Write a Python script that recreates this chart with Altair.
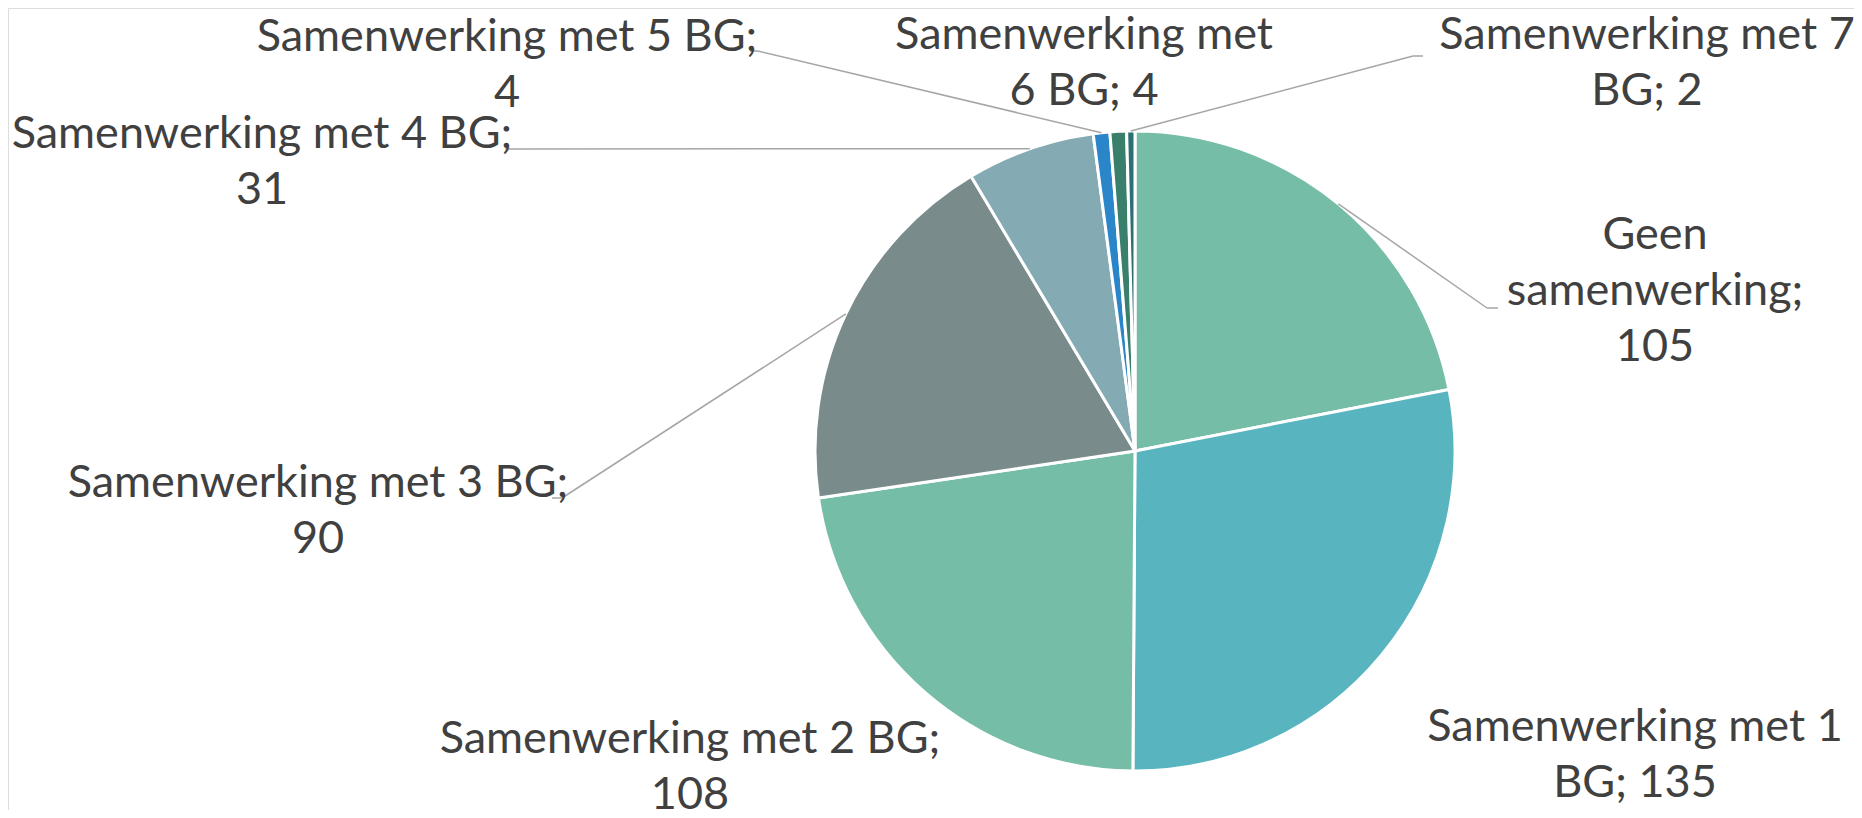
import textwrap
import altair as alt
import pandas as pd

# ---- data -------------------------------------------------------------
categories = [
    "Geen samenwerking",
    "Samenwerking met 1 BG",
    "Samenwerking met 2 BG",
    "Samenwerking met 3 BG",
    "Samenwerking met 4 BG",
    "Samenwerking met 5 BG",
    "Samenwerking met 6 BG",
    "Samenwerking met 7 BG",
]
values = [105, 135, 108, 90, 31, 4, 4, 2]

# ---- style / layout -----------------------------------------------------
colors = ["#76BDA7", "#58B5C0", "#76BDA7", "#7A8B8B",
          "#84AAB3", "#2A86C9", "#3A7F6C", "#2C7076"]
MARGIN = 8
CX, CY, R = 1135 - MARGIN, 451 - MARGIN, 320
# label anchor (centre x, first-line baseline y) in page pixels
label_x = [1655, 1635, 690, 318, 262, 507, 1084, 1647]
label_y = [249, 741, 753, 497, 148, 51, 49, 49]
wrap_width = [13, 18, 22, 22, 22, 22, 16, 18]
# leader lines: bend point and end point (page pixels); None = no leader
leader_bend = [(1487, 308), None, None, (562, 498), (512, 149), (758, 51), None, (1413, 56)]
leader_end = [(1498, 308), None, None, (552, 498), (505, 149), (750, 51), None, (1423, 56)]

FONT = "Lato"
TEXT_COLOR = "#404040"
LINE_COLOR = "#A6A6A6"

# ---- tables -------------------------------------------------------------
df = pd.DataFrame({"cat": categories, "value": values, "idx": range(len(values))})

labels = pd.DataFrame({
    "cat": categories,
    "text": ["\n".join(textwrap.wrap(f"{c}; {v}", width=w))
             for c, v, w in zip(categories, values, wrap_width)],
    "lx": [x - MARGIN for x in label_x],
    "ly": [y - MARGIN for y in label_y],
})

lead_rows = []
for i, (b, e) in enumerate(zip(leader_bend, leader_end)):
    if b is None:
        continue
    lead_rows.append({"cat": categories[i],
                      "bx": b[0] - MARGIN, "by": b[1] - MARGIN,
                      "ex": e[0] - MARGIN, "ey": e[1] - MARGIN})
leads = pd.DataFrame(lead_rows)

# ---- chart --------------------------------------------------------------
pie = alt.Chart(df).mark_arc(outerRadius=R, stroke="white", strokeWidth=3).encode(
    theta=alt.Theta("value:Q", stack=True),
    color=alt.Color("cat:N", scale=alt.Scale(domain=categories, range=colors), legend=None),
    order=alt.Order("idx:Q", sort="ascending"),
    x=alt.value(CX),
    y=alt.value(CY),
)

# slice mid-angle computed from the data (same stacking as the pie)
lead_base = (
    alt.Chart(df)
    .transform_joinaggregate(total="sum(value)")
    .transform_window(cum="sum(value)", sort=[alt.SortField("idx")], frame=[None, 0])
    .transform_calculate(
        mid="2*PI*(datum.cum - datum.value/2)/datum.total",
        px=f"{CX} + {R}*sin(datum.mid)",
        py=f"{CY} - {R}*cos(datum.mid)",
    )
    .transform_lookup(lookup="cat", from_=alt.LookupData(leads, "cat", ["bx", "by", "ex", "ey"]))
    .transform_filter("isValid(datum.bx)")
)

lead1 = lead_base.mark_rule(color=LINE_COLOR, strokeWidth=1.5).encode(
    x=alt.X("px:Q", scale=None, axis=None),
    y=alt.Y("py:Q", scale=None, axis=None),
    x2="bx:Q",
    y2="by:Q",
)
lead2 = lead_base.mark_rule(color=LINE_COLOR, strokeWidth=1.5).encode(
    x=alt.X("bx:Q", scale=None, axis=None),
    y=alt.Y("by:Q", scale=None, axis=None),
    x2="ex:Q",
    y2="ey:Q",
)

text = alt.Chart(labels).mark_text(
    font=FONT, fontSize=45, color=TEXT_COLOR, align="center",
    baseline="alphabetic", lineBreak="\n", lineHeight=56,
).encode(
    x=alt.X("lx:Q", scale=None, axis=None),
    y=alt.Y("ly:Q", scale=None, axis=None),
    text="text:N",
)

chart = (
    alt.layer(pie, lead1, lead2, text)
    .properties(width=1846, height=802, padding=0,
                autosize=alt.AutoSizeParams(type="none"))
    .configure_view(strokeWidth=0)
    .configure(background="white")
)

chart.save("out.html", embed_options={"renderer": "svg", "actions": False})
